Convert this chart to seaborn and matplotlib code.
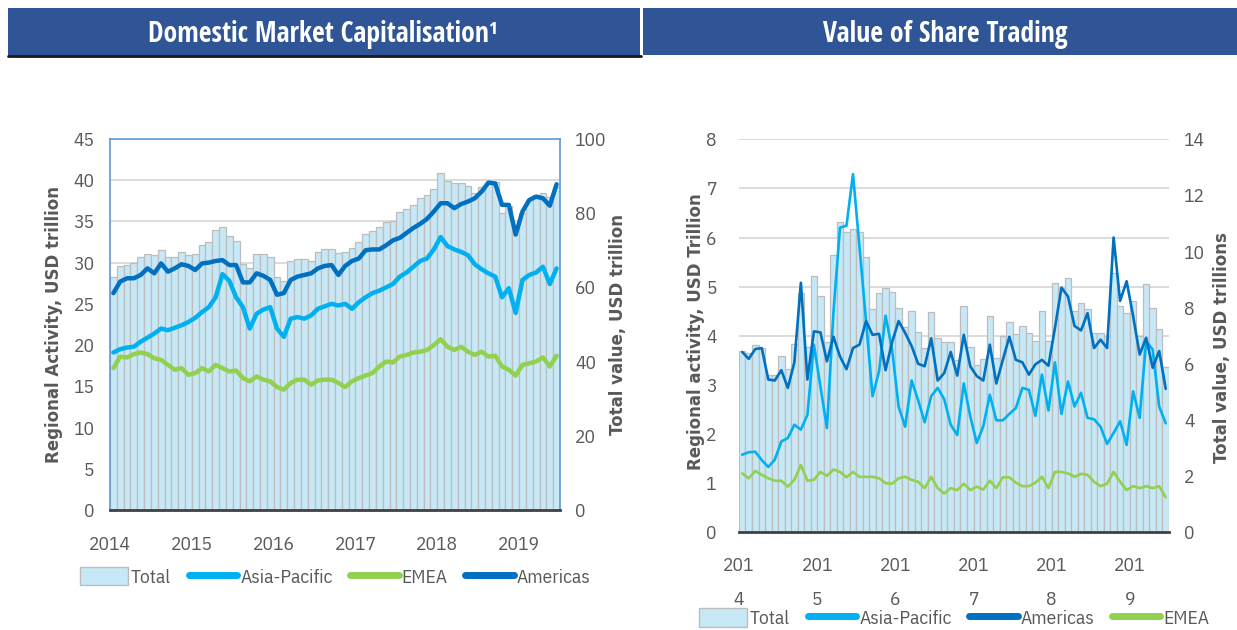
import numpy as np
import pandas as pd
import seaborn as sns
import matplotlib.pyplot as plt
from matplotlib.patches import Patch, Rectangle
from matplotlib.lines import Line2D

sns.set_style('white')
plt.rcParams['font.family'] = ['IBM Plex Sans Condensed', 'DejaVu Sans']

# monthly, Jan 2014 - Jun 2019
months = np.arange(66)
years = ['2014', '2015', '2016', '2017', '2018', '2019']
years_wrapped = ['201\n4', '201\n5', '201\n6', '201\n7', '201\n8', '201\n9']

# Domestic market capitalisation (USD trillion)
cap_total = [62.9, 65.8, 66.0, 66.5, 68.1, 69.0, 68.6, 70.1, 68.1, 68.3, 69.4, 68.6,
             68.9, 71.3, 72.1, 75.5, 76.2, 73.9, 72.5, 66.3, 65.1, 69.0, 69.0, 68.1,
             62.7, 61.8, 67.0, 67.7, 67.7, 67.2, 69.4, 70.3, 70.3, 69.2, 69.6, 70.5,
             72.3, 74.4, 75.2, 76.2, 77.6, 78.0, 80.2, 81.0, 82.1, 84.0, 84.9, 86.4,
             90.9, 88.7, 88.0, 88.0, 87.3, 85.5, 87.0, 88.2, 88.5, 80.0, 82.0, 76.5,
             80.0, 83.5, 84.8, 85.4, 84.3, 87.0]
cap_asia = [19.1, 19.5, 19.7, 19.8, 20.4, 20.9, 21.4, 22.0, 21.8, 22.1, 22.4, 22.8,
            23.3, 24.0, 24.6, 25.8, 28.6, 27.8, 25.8, 24.6, 22.0, 23.8, 24.3, 24.6,
            22.0, 21.0, 23.2, 23.4, 23.2, 23.6, 24.4, 24.7, 25.0, 24.8, 25.0, 24.4,
            25.2, 25.8, 26.3, 26.6, 27.0, 27.4, 28.3, 28.8, 29.5, 30.2, 30.5, 31.6,
            33.1, 32.0, 31.6, 31.3, 30.9, 29.8, 29.2, 28.7, 28.3, 25.8, 26.9, 23.9,
            27.9, 28.5, 28.8, 29.5, 27.4, 29.3]
cap_emea = [17.2, 18.6, 18.5, 18.9, 19.1, 18.9, 18.4, 18.2, 17.6, 17.0, 17.2, 16.4,
            16.6, 17.2, 16.8, 17.6, 17.2, 16.8, 16.9, 16.0, 15.6, 16.2, 15.8, 15.6,
            14.9, 14.6, 15.4, 15.8, 15.8, 15.2, 15.7, 15.8, 15.8, 15.4, 14.9, 15.6,
            16.0, 16.3, 16.6, 17.4, 18.0, 17.9, 18.6, 18.8, 19.1, 19.2, 19.4, 20.0,
            20.7, 19.8, 19.4, 19.8, 19.2, 18.8, 19.2, 18.6, 18.7, 17.4, 17.0, 16.3,
            17.6, 17.8, 18.0, 18.5, 17.4, 18.7]
cap_americas = [26.3, 27.7, 28.1, 28.1, 28.5, 29.3, 28.7, 29.9, 28.9, 29.3, 29.8, 29.6,
                29.1, 29.9, 30.0, 30.2, 30.3, 29.7, 29.7, 27.6, 27.6, 28.7, 28.4, 27.9,
                26.1, 26.3, 27.9, 28.3, 28.5, 28.7, 29.3, 29.6, 29.7, 28.5, 29.6, 30.2,
                30.5, 31.5, 31.6, 31.6, 32.1, 32.7, 33.0, 33.6, 34.2, 34.7, 35.3, 36.2,
                37.2, 37.2, 36.6, 37.1, 37.4, 37.8, 38.6, 39.7, 39.6, 37.0, 37.0, 33.4,
                36.2, 37.6, 38.0, 37.8, 36.9, 39.5]

# Value of share trading (USD trillion)
trade_total = [6.45, 6.39, 6.67, 6.57, 5.62, 5.62, 6.27, 5.82, 6.72, 8.54, 6.60, 9.13,
               8.40, 6.77, 9.87, 11.06, 10.70, 10.80, 10.70, 9.81, 7.94, 8.54, 8.71, 8.57,
               7.98, 7.30, 7.88, 7.14, 6.57, 7.84, 6.93, 6.77, 6.77, 6.15, 8.05, 6.60,
               5.97, 6.17, 7.70, 6.21, 6.99, 7.49, 7.05, 7.34, 7.09, 6.81, 7.88, 6.81,
               8.89, 8.71, 9.07, 7.88, 8.16, 7.94, 7.10, 7.10, 7.00, 9.25, 8.06, 7.80,
               8.24, 6.98, 8.83, 8.00, 7.25, 5.89]
trade_asia = [1.58, 1.63, 1.64, 1.47, 1.33, 1.48, 1.85, 1.92, 2.19, 2.09, 2.39, 3.82,
              2.97, 2.12, 4.47, 6.20, 6.24, 7.29, 5.80, 4.30, 2.77, 3.28, 4.41, 3.72,
              2.56, 2.15, 3.09, 2.69, 2.24, 2.77, 2.94, 2.71, 2.19, 1.98, 3.03, 2.36,
              1.82, 2.16, 2.80, 2.28, 2.28, 2.41, 2.53, 2.94, 2.90, 2.37, 3.21, 2.48,
              3.46, 2.41, 3.07, 2.56, 2.84, 2.33, 2.30, 2.15, 1.80, 2.02, 2.26, 1.78,
              2.87, 2.33, 3.89, 3.72, 2.56, 2.22]
trade_americas = [3.67, 3.53, 3.73, 3.75, 3.11, 3.09, 3.30, 2.94, 3.46, 5.08, 3.11, 4.09,
                  4.07, 3.48, 3.98, 3.58, 3.32, 3.75, 3.82, 4.30, 4.02, 4.04, 3.30, 3.87,
                  4.30, 4.06, 3.79, 3.43, 3.38, 3.95, 3.09, 3.24, 3.67, 3.19, 4.02, 3.38,
                  3.18, 3.09, 3.82, 3.03, 3.51, 3.98, 3.51, 3.46, 3.21, 3.42, 3.51, 3.39,
                  4.16, 4.98, 4.80, 4.20, 4.11, 4.46, 3.75, 3.92, 3.75, 6.00, 4.71, 5.11,
                  4.40, 3.62, 3.96, 3.35, 3.69, 2.92]
trade_emea = [1.20, 1.10, 1.25, 1.17, 1.10, 1.05, 1.05, 0.93, 1.07, 1.37, 1.05, 1.07,
              1.23, 1.15, 1.28, 1.23, 1.12, 1.23, 1.13, 1.13, 1.13, 1.10, 1.00, 0.99,
              1.10, 1.13, 1.07, 1.03, 0.90, 1.13, 0.90, 0.79, 0.90, 0.86, 0.99, 0.86,
              0.93, 0.87, 1.05, 0.90, 1.12, 1.12, 1.01, 0.94, 0.94, 1.01, 1.13, 0.90,
              1.23, 1.23, 1.20, 1.13, 1.19, 1.17, 1.03, 0.94, 0.99, 1.23, 1.03, 0.86,
              0.94, 0.90, 0.94, 0.90, 0.94, 0.71]

BAR = '#C7E8F6'
EDGE = '#BDBDBD'
ASIA = '#00B0F0'
EMEA = '#92D050'
AMER = '#0070C0'
GREY = '#595959'
NAVY = '#2F5597'
TITLE_FONT = ['Open Sans Condensed', 'IBM Plex Sans Condensed', 'DejaVu Sans']
LABEL_FONT = 'DejaVu Sans'

fig = plt.figure(figsize=(12.37, 6.30), dpi=100)

# title banners
fig.add_artist(Rectangle((0.0065, 0.911), 0.511, 0.076, transform=fig.transFigure,
                         facecolor=NAVY, edgecolor='none'))
fig.add_artist(Line2D([0.0065, 0.518], [0.911, 0.911], transform=fig.transFigure,
                      color='#1A1A1A', lw=2))
fig.add_artist(Rectangle((0.520, 0.913), 0.48, 0.074, transform=fig.transFigure,
                         facecolor=NAVY, edgecolor='none'))
fig.text(0.261, 0.946, 'Domestic Market Capitalisation¹', color='white', fontsize=20,
         fontweight='bold', family=TITLE_FONT, ha='center', va='center')
fig.text(0.764, 0.946, 'Value of Share Trading', color='white', fontsize=20,
         fontweight='bold', family=TITLE_FONT, ha='center', va='center')


def panel(rect, total, lines, lmax, lstep, rmax, rstep, lw, xlabels, lab_l, lab_r,
          framed, leg_y, leg_order, xpad):
    ax_bar = fig.add_axes(rect)
    df = pd.DataFrame({'month': months, 'total': total})
    sns.barplot(data=df, x='month', y='total', ax=ax_bar, color=BAR, saturation=1,
                width=1.0, edgecolor=EDGE, linewidth=0.9, zorder=2)
    # horizontal grid of the left scale, kept behind the bars
    for v in np.arange(lstep, lmax + 0.01, lstep):
        ax_bar.axhline(v * rmax / lmax, color='#D9D9D9', lw=1.3, zorder=1)

    ax_line = ax_bar.twinx()
    for name, vals, col in lines:
        sns.lineplot(x=months, y=vals, ax=ax_line, color=col, lw=lw, legend=False)

    ax_bar.yaxis.tick_right()
    ax_bar.yaxis.set_label_position('right')
    ax_line.yaxis.tick_left()
    ax_line.yaxis.set_label_position('left')

    ax_bar.set_ylim(0, rmax)
    ax_bar.set_yticks(np.arange(0, rmax + 0.01, rstep))
    ax_line.set_ylim(0, lmax)
    ax_line.set_yticks(np.arange(0, lmax + 0.01, lstep))
    ax_bar.set_xlim(-0.5, 65.5)
    ax_bar.set_xticks(np.arange(0, 66, 12) - 0.5)
    ax_bar.set_xticklabels(xlabels, linespacing=2.1)

    ax_bar.set_xlabel('')
    ax_bar.set_ylabel(lab_r, fontsize=12, color=GREY, fontweight='bold', family=LABEL_FONT)
    ax_line.set_ylabel(lab_l, fontsize=12, color=GREY, fontweight='bold', family=LABEL_FONT)

    ax_bar.tick_params(axis='x', direction='inout', length=12, width=1.5, color='#404040',
                       labelsize=14, labelcolor=GREY, pad=xpad)
    ax_bar.tick_params(axis='y', length=0, labelsize=14, labelcolor=GREY, pad=11)
    ax_line.tick_params(axis='y', length=0, labelsize=14, labelcolor=GREY, pad=11)

    for sp in ax_line.spines.values():
        sp.set_visible(False)
    ax_bar.spines['bottom'].set_color('#404040')
    ax_bar.spines['bottom'].set_linewidth(2)
    for s in ['top', 'left', 'right']:
        ax_bar.spines[s].set_visible(framed)
        ax_bar.spines[s].set_color('#5B9BD5')
        ax_bar.spines[s].set_linewidth(1.2)

    handles = {'Total': Patch(facecolor=BAR, edgecolor=EDGE)}
    for name, vals, col in lines:
        handles[name] = Line2D([], [], color=col, lw=5)
    ax_line.legend([handles[k] for k in leg_order], leg_order, loc='center',
                   bbox_to_anchor=(0.5, leg_y), ncol=4, frameon=False, fontsize=14,
                   handlelength=2.5, handleheight=1.1, handletextpad=0.15,
                   columnspacing=0.9, labelcolor=GREY)
    return ax_bar, ax_line


axL_bar, axL_line = panel(
    [0.0889, 0.1905, 0.3638, 0.589], cap_total,
    [('Asia-Pacific', cap_asia, ASIA), ('EMEA', cap_emea, EMEA), ('Americas', cap_americas, AMER)],
    45, 5, 100, 20, 3.2, years,
    'Regional Activity, USD trillion', 'Total value, USD trillion', True, -0.18,
    ['Total', 'Asia-Pacific', 'EMEA', 'Americas'], 13)
axL_line.yaxis.set_label_coords(-0.105, 0.5)
axL_bar.yaxis.set_label_coords(1.109, 0.5)

axR_bar, axR_line = panel(
    [0.5974, 0.155, 0.3476, 0.624], trade_total,
    [('Asia-Pacific', trade_asia, ASIA), ('Americas', trade_americas, AMER), ('EMEA', trade_emea, EMEA)],
    8, 1, 14, 2, 1.9, years_wrapped,
    'Regional activity, USD Trillion', 'Total value, USD trillions', False, -0.218,
    ['Total', 'Asia-Pacific', 'Americas', 'EMEA'], 12)
axR_line.yaxis.set_label_coords(-0.079, 0.51)
axR_bar.yaxis.set_label_coords(1.102, 0.47)
axR_line.tick_params(axis='y', pad=16)

fig.savefig('out.png', dpi=100)
